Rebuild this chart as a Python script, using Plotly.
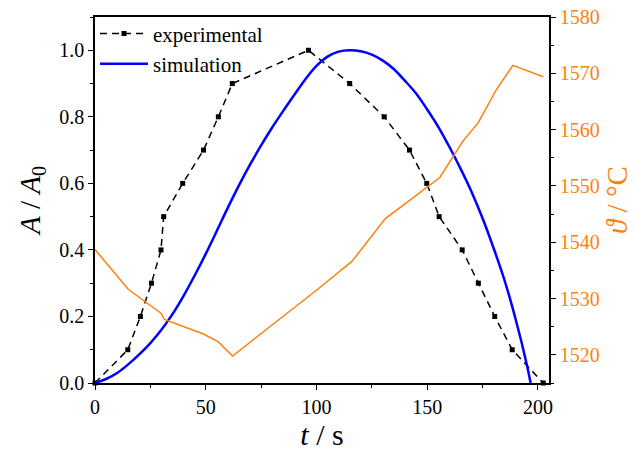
import plotly.graph_objects as go

# Experimental A/A0
exp_t = [0, 14.8, 20.5, 25.5, 29.8, 31.0, 39.6, 49.0, 55.7, 62.0, 96.4,
         115.0, 130.6, 142.0, 149.8, 155.4, 165.8, 173.1, 180.5, 188.4, 202.4]
exp_a = [0.0, 0.1, 0.2, 0.3, 0.4, 0.5, 0.6, 0.7, 0.8, 0.9, 1.0,
         0.9, 0.8, 0.7, 0.6, 0.5, 0.4, 0.3, 0.2, 0.1, 0.0]

# Simulation A/A0
sim_t = [0, 5, 10, 15, 20, 25, 30, 35, 40, 45, 50, 55, 60, 65, 70, 75, 80,
         85, 90, 95, 100, 105, 110, 115, 120, 125, 130, 135, 140, 145, 150,
         155, 160, 165, 170, 175, 180, 185, 190, 195, 196.7]
sim_a = [0.0, 0.012, 0.03, 0.056, 0.086, 0.12, 0.16, 0.207, 0.262, 0.323,
         0.388, 0.457, 0.527, 0.594, 0.656, 0.714, 0.768, 0.818, 0.866, 0.913,
         0.953, 0.981, 0.996, 1.0, 0.997, 0.987, 0.969, 0.943, 0.908, 0.87,
         0.822, 0.77, 0.71, 0.645, 0.575, 0.495, 0.405, 0.307, 0.19, 0.055, 0.0]

# Temperature (right axis)
temp_t = [0, 15.1, 29.8, 31.3, 49.0, 55.7, 62.1, 101.7, 116.0, 131.1, 141.6,
          155.7, 166.2, 173.0, 181.1, 188.7, 202.4]
temp_v = [1538.7, 1531.6, 1527.4, 1526.3, 1523.7, 1522.3, 1519.8, 1532.0,
          1536.6, 1544.2, 1547.3, 1551.5, 1558.0, 1561.2, 1567.0, 1571.4, 1569.4]

x_ticks = [0, 50, 100, 150, 200]
y_ticks = [0.0, 0.2, 0.4, 0.6, 0.8, 1.0]
y2_ticks = [1520, 1530, 1540, 1550, 1560, 1570, 1580]

ORANGE = "#FF7F0E"
FONT = "Liberation Serif"

fig = go.Figure()
fig.add_trace(go.Scatter(
    x=exp_t, y=exp_a, name="experimental", mode="lines+markers",
    line=dict(color="black", width=1.5, dash="7px,5px"),
    marker=dict(symbol="square", size=5, color="black"),
    cliponaxis=False))
fig.add_trace(go.Scatter(
    x=sim_t, y=sim_a, name="simulation", mode="lines",
    line=dict(color="#0000FF", width=2.5, shape="spline", smoothing=1.0)))
fig.add_trace(go.Scatter(
    x=temp_t, y=temp_v, name="temperature", mode="lines", yaxis="y2",
    line=dict(color=ORANGE, width=1.5), showlegend=False))

axis_common = dict(showgrid=False, zeroline=False, showline=True,
                   linecolor="black", linewidth=1.5, ticks="outside",
                   ticklen=5, tickwidth=1.2, tickcolor="black")

fig.update_layout(
    width=639, height=451,
    margin=dict(l=95, r=90, t=17, b=68, autoexpand=False),
    plot_bgcolor="white", paper_bgcolor="white",
    font=dict(family=FONT, size=20, color="black"),
    showlegend=True,
    legend=dict(x=0.0, y=1.01, xanchor="left", yanchor="top",
                bgcolor="rgba(0,0,0,0)", font=dict(family=FONT, size=21),
                tracegroupgap=0, itemwidth=48),
    xaxis=dict(range=[0, 205], tickvals=x_ticks, mirror=True,
               minor=dict(dtick=25, ticklen=3, ticks="outside", tickcolor="black"),
               title=dict(text="<i>t</i> / s", font=dict(size=30), standoff=4),
               **axis_common),
    yaxis=dict(range=[0, 1.1], tickvals=y_ticks, tickformat=".1f",
               minor=dict(dtick=0.1, ticklen=3, ticks="outside", tickcolor="black"),
               title=dict(text="<i>A</i> / <i>A</i><sub>0</sub>",
                          font=dict(size=29), standoff=10),
               **axis_common),
    yaxis2=dict(range=[1515, 1580], tickvals=y2_ticks, overlaying="y",
                side="right", tickfont=dict(color=ORANGE),
                minor=dict(dtick=5, ticklen=3, ticks="outside", tickcolor="black"),
                title=dict(text="<i>ϑ</i> / °C", font=dict(size=29, color=ORANGE),
                           standoff=8),
                **axis_common),
)

fig.write_html("out.html", config={"displayModeBar": False},
               post_script="document.body.style.margin='0px';")
